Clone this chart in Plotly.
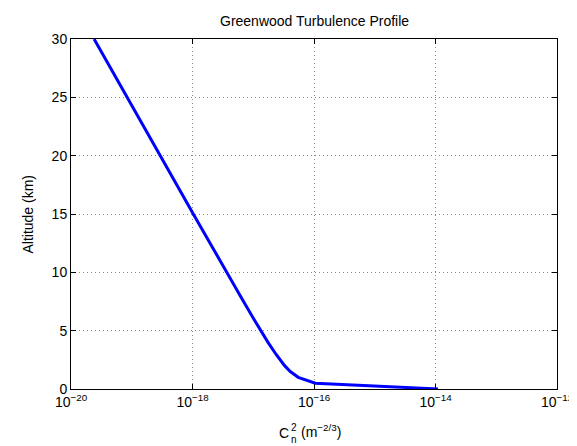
import plotly.graph_objects as go

altitude_km = [0, 0.5, 1, 1.5, 2, 2.5, 3, 4, 5, 6, 8, 10, 12, 15, 20, 25, 30]
cn2 = [1.1e-14, 1.05e-16, 5.5e-17, 4.07e-17, 3.28e-17, 2.75e-17, 2.35e-17, 1.75e-17,
       1.33e-17, 1.02e-17, 6.1e-18, 3.65e-18, 2.2e-18, 1.03e-18, 2.95e-19, 8.4e-20,
       2.4e-20]

x_tickvals = [1e-20, 1e-18, 1e-16, 1e-14, 1e-12]
x_ticktext = ["10<sup>\u221220</sup>", "10<sup>\u221218</sup>", "10<sup>\u221216</sup>",
              "10<sup>\u221214</sup>", "10<sup>\u221212</sup>"]
y_tickvals = [0, 5, 10, 15, 20, 25, 30]

font = "Liberation Sans, Arial, Helvetica, sans-serif"
W, H = 577, 446
L, R, T, B = 63, 555, 31, 381
FS = 14


def px(xp):
    return (xp - L) / (R - L)


def py(yp):
    return (B - yp) / (B - T)


fig = go.Figure()
fig.add_trace(go.Scatter(x=cn2, y=altitude_km, mode="lines",
                         line=dict(color="#0000ff", width=3)))

axis_common = dict(showline=True, linecolor="black", linewidth=1, mirror="ticks",
                   ticks="inside", ticklen=5, tickcolor="black",
                   showgrid=True, gridcolor="#8c8c8c", griddash="1px,3px", gridwidth=1,
                   zeroline=False, tickfont=dict(family=font, size=FS, color="black"))

fig.update_xaxes(type="log", range=[-20, -12], tickvals=x_tickvals, ticktext=x_ticktext,
                 **axis_common)
fig.update_yaxes(range=[0, 30], tickvals=y_tickvals, **axis_common)

tf = dict(family=font, size=FS, color="black")
sf = dict(family=font, size=10, color="black")
annotations = [
    dict(text="Greenwood Turbulence Profile", x=0.5, y=py(13), xanchor="center",
         yanchor="middle", font=tf),
    dict(text="Altitude (km)", x=px(19), y=0.5, xanchor="center", yanchor="middle",
         textangle=-90, font=tf),
    dict(text="C", x=px(285), y=py(425), xanchor="right", yanchor="middle", font=tf),
    dict(text="2", x=px(284.5), y=py(419), xanchor="left", yanchor="middle", font=sf),
    dict(text="n", x=px(284.5), y=py(431), xanchor="left", yanchor="middle", font=sf),
    dict(text="(m<sup>\u22122/3</sup>)", x=px(295), y=py(423), xanchor="left",
         yanchor="middle", font=tf),
]
for a in annotations:
    a.update(xref="paper", yref="paper", showarrow=False, borderpad=0)

fig.update_layout(
    width=W, height=H,
    margin=dict(l=L, r=W - R, t=T, b=H - B),
    paper_bgcolor="white", plot_bgcolor="white",
    showlegend=False,
    annotations=annotations,
)

fig.write_html("out.html")
